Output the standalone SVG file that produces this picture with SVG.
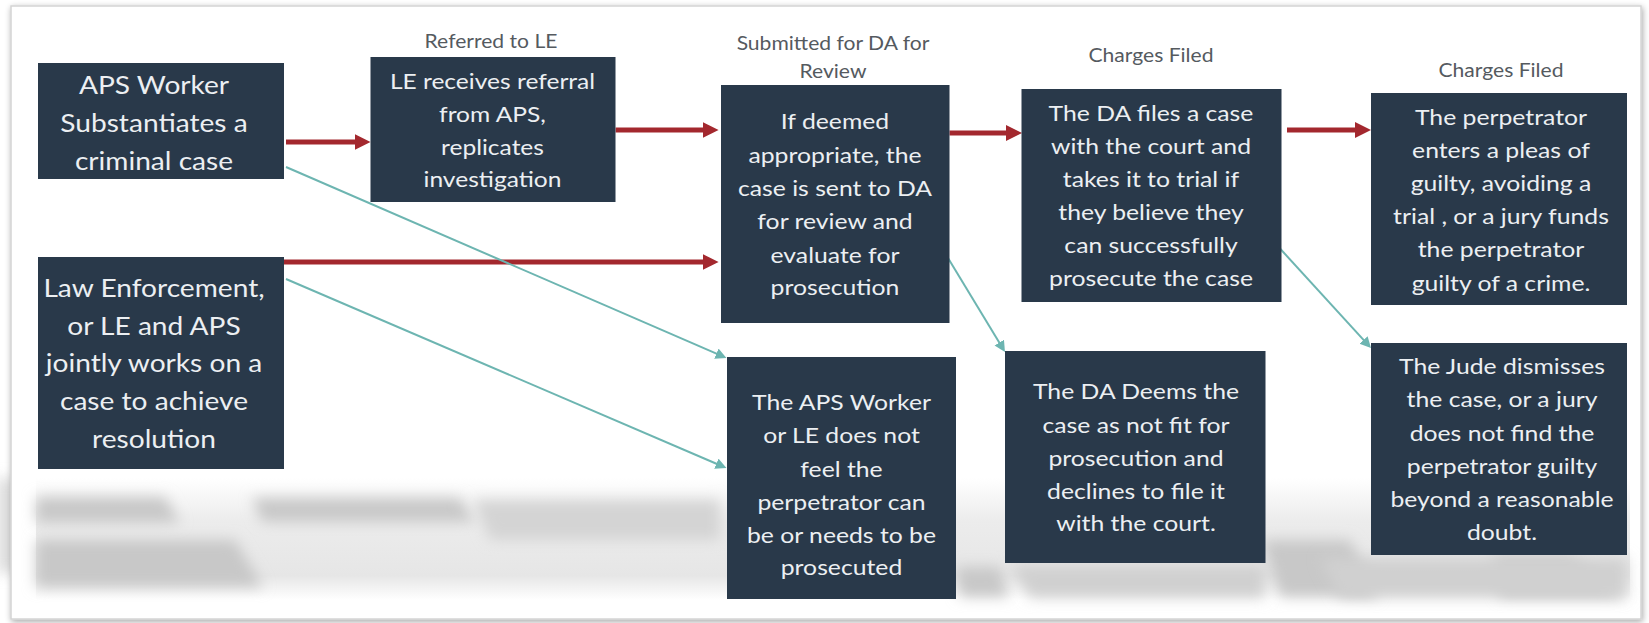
<svg xmlns="http://www.w3.org/2000/svg" width="1649" height="623" viewBox="0 0 1649 623">
<defs>
<style>
.box{fill:#29394a;}
.t{font-family:Lato,"Liberation Sans",sans-serif;fill:#eceff2;text-anchor:middle;font-size:22px;}
.big{font-size:25px;}
.lbl{font-family:Lato,"Liberation Sans",sans-serif;fill:#555a5f;text-anchor:middle;font-size:19px;}
.red{stroke:#a3282e;stroke-width:5;fill:none;marker-end:url(#ar);}
.teal{stroke:#6db5b1;stroke-width:2;fill:none;marker-end:url(#at);}
.refl{fill:#c8c8c8;filter:url(#blur);}
</style>
<marker id="ar" markerUnits="userSpaceOnUse" markerWidth="18" markerHeight="18" refX="2" refY="8" orient="auto"><path d="M0,0 L16,8 L0,16 z" fill="#a3282e"/></marker>
<marker id="at" markerUnits="userSpaceOnUse" markerWidth="13" markerHeight="12" refX="2" refY="5.5" orient="auto"><path d="M0,0 L11,5.5 L0,11 z" fill="#6db5b1"/></marker>
<filter id="blur" x="-20%" y="-60%" width="140%" height="220%"><feGaussianBlur stdDeviation="7"/></filter>
<filter id="shadow" x="-5%" y="-5%" width="110%" height="110%"><feGaussianBlur in="SourceAlpha" stdDeviation="3"/><feOffset dx="1" dy="2"/><feComponentTransfer><feFuncA type="linear" slope="0.35"/></feComponentTransfer><feMerge><feMergeNode/><feMergeNode in="SourceGraphic"/></feMerge></filter>
<linearGradient id="band" x1="0" y1="0" x2="0" y2="1"><stop offset="0" stop-color="#ffffff"/><stop offset="0.35" stop-color="#ececec"/><stop offset="0.8" stop-color="#e6e6e6"/><stop offset="1" stop-color="#ffffff"/></linearGradient>
</defs>
<rect x="0" y="0" width="1649" height="623" fill="#ffffff"/>
<rect x="0" y="478" width="12" height="95" fill="#cfcfcf" filter="url(#blur)"/>
<rect x="11" y="6" width="1630" height="613" fill="#ffffff" stroke="#d4d4d4" stroke-width="1.5" filter="url(#shadow)"/>
<g id="reflection">
<rect x="36" y="478" width="1594" height="122" fill="url(#band)"/>
<polygon class="refl" points="36,497 165,497 180,523 36,523"/>
<polygon class="refl" points="252,498 460,498 475,522 262,522"/>
<polygon class="refl" points="36,540 235,540 263,587 36,587"/>
<polygon class="refl" points="473,500 720,500 720,540 490,540" style="fill:#d4d4d4"/>
<polygon class="refl" points="956,567 1000,567 1009,597 960,597"/>
<polygon class="refl" points="1262,540 1350,540 1378,597 1280,597"/>
<polygon class="refl" points="1493,557 1570,557 1625,597 1500,597"/>
<polygon class="refl" points="1010,565 1265,565 1265,598 1030,598" style="fill:#d0d0d0"/>
<polygon class="refl" points="1320,558 1627,558 1627,598 1340,598" style="fill:#d0d0d0"/>
</g>
<g id="connectors">
<path class="red" d="M286,142 H356.5"/>
<path class="red" d="M615.6,130 H704.6"/>
<path class="red" d="M284,262 H704.6"/>
<path class="red" d="M949.5,133 H1008"/>
<path class="red" d="M1287,130 H1357"/>
<path class="teal" d="M286,167 L718.2,354.4"/>
<path class="teal" d="M286,279 L718.2,464.5"/>
<path class="teal" d="M948,258 L1000.3,344.3"/>
<path class="teal" d="M1278.6,247 L1364.9,341.4"/>
</g>
<g id="labels">
<text class="lbl" x="491" y="48" transform="matrix(1.11,0,0,1,-54.01,0)">Referred to LE</text>
<text class="lbl" x="833" y="50" transform="matrix(1.11,0,0,1,-91.63,0)">Submitted for DA for</text>
<text class="lbl" x="833" y="78" transform="matrix(1.11,0,0,1,-91.63,0)">Review</text>
<text class="lbl" x="1151" y="62" transform="matrix(1.11,0,0,1,-126.61,0)">Charges Filed</text>
<text class="lbl" x="1501" y="77" transform="matrix(1.11,0,0,1,-165.11,0)">Charges Filed</text>
</g>
<g id="nodeA">
<rect class="box" x="38" y="63" width="246" height="116"/>
<g transform="matrix(1.125,0,0,1,-19.25,0)">
<text class="t big" x="154" y="94">APS Worker</text>
<text class="t big" x="154" y="132">Substantiates a</text>
<text class="t big" x="154" y="170">criminal case</text>
</g>
</g>
<g id="nodeB">
<rect class="box" x="370.5" y="57" width="245" height="145"/>
<g transform="matrix(1.17,0,0,1,-83.725,0)">
<text class="t" x="492.5" y="89" style="font-size:21px">LE receives referral</text>
<text class="t" x="492.5" y="122" style="font-size:21px">from APS,</text>
<text class="t" x="492.5" y="155" style="font-size:21px">replicates</text>
<text class="t" x="492.5" y="187" style="font-size:21px">investigation</text>
</g>
</g>
<g id="nodeC">
<rect class="box" x="38" y="257" width="246" height="212"/>
<g transform="matrix(1.125,0,0,1,-19.25,0)">
<text class="t big" x="154" y="297">Law Enforcement,</text>
<text class="t big" x="154" y="335">or LE and APS</text>
<text class="t big" x="154" y="372">jointly works on a</text>
<text class="t big" x="154" y="410">case to achieve</text>
<text class="t big" x="154" y="448">resolution</text>
</g>
</g>
<g id="nodeD">
<rect class="box" x="721" y="85" width="228.5" height="238"/>
<g transform="matrix(1.125,0,0,1,-104.375,0)">
<text class="t" x="835" y="129">If deemed</text>
<text class="t" x="835" y="163">appropriate, the</text>
<text class="t" x="835" y="196">case is sent to DA</text>
<text class="t" x="835" y="229">for review and</text>
<text class="t" x="835" y="263">evaluate for</text>
<text class="t" x="835" y="295">prosecution</text>
</g>
</g>
<g id="nodeE">
<rect class="box" x="1021.5" y="89" width="260" height="213"/>
<g transform="matrix(1.125,0,0,1,-143.875,0)">
<text class="t" x="1151" y="121">The DA files a case</text>
<text class="t" x="1151" y="154">with the court and</text>
<text class="t" x="1151" y="187">takes it to trial if</text>
<text class="t" x="1151" y="220">they believe they</text>
<text class="t" x="1151" y="253">can successfully</text>
<text class="t" x="1151" y="286">prosecute the case</text>
</g>
</g>
<g id="nodeF">
<rect class="box" x="1371" y="93" width="256" height="212"/>
<g transform="matrix(1.125,0,0,1,-187.625,0)">
<text class="t" x="1501" y="125">The perpetrator</text>
<text class="t" x="1501" y="158">enters a pleas of</text>
<text class="t" x="1501" y="191">guilty, avoiding a</text>
<text class="t" x="1501" y="224">trial , or a jury funds</text>
<text class="t" x="1501" y="257">the perpetrator</text>
<text class="t" x="1501" y="291">guilty of a crime.</text>
</g>
</g>
<g id="nodeG">
<rect class="box" x="727" y="357" width="229" height="242"/>
<g transform="matrix(1.125,0,0,1,-105.1875,0)">
<text class="t" x="841.5" y="410">The APS Worker</text>
<text class="t" x="841.5" y="443">or LE does not</text>
<text class="t" x="841.5" y="477">feel the</text>
<text class="t" x="841.5" y="510">perpetrator can</text>
<text class="t" x="841.5" y="543">be or needs to be</text>
<text class="t" x="841.5" y="575">prosecuted</text>
</g>
</g>
<g id="nodeH">
<rect class="box" x="1005" y="351" width="260.5" height="212"/>
<g transform="matrix(1.125,0,0,1,-142,0)">
<text class="t" x="1136" y="399">The DA Deems the</text>
<text class="t" x="1136" y="433">case as not fit for</text>
<text class="t" x="1136" y="466">prosecution and</text>
<text class="t" x="1136" y="499">declines to file it</text>
<text class="t" x="1136" y="531">with the court.</text>
</g>
</g>
<g id="nodeI">
<rect class="box" x="1371" y="343" width="256" height="212"/>
<g transform="matrix(1.125,0,0,1,-187.75,0)">
<text class="t" x="1502" y="374">The Jude dismisses</text>
<text class="t" x="1502" y="407">the case, or a jury</text>
<text class="t" x="1502" y="441">does not find the</text>
<text class="t" x="1502" y="474">perpetrator guilty</text>
<text class="t" x="1502" y="507">beyond a reasonable</text>
<text class="t" x="1502" y="540">doubt.</text>
</g>
</g>
</svg>
